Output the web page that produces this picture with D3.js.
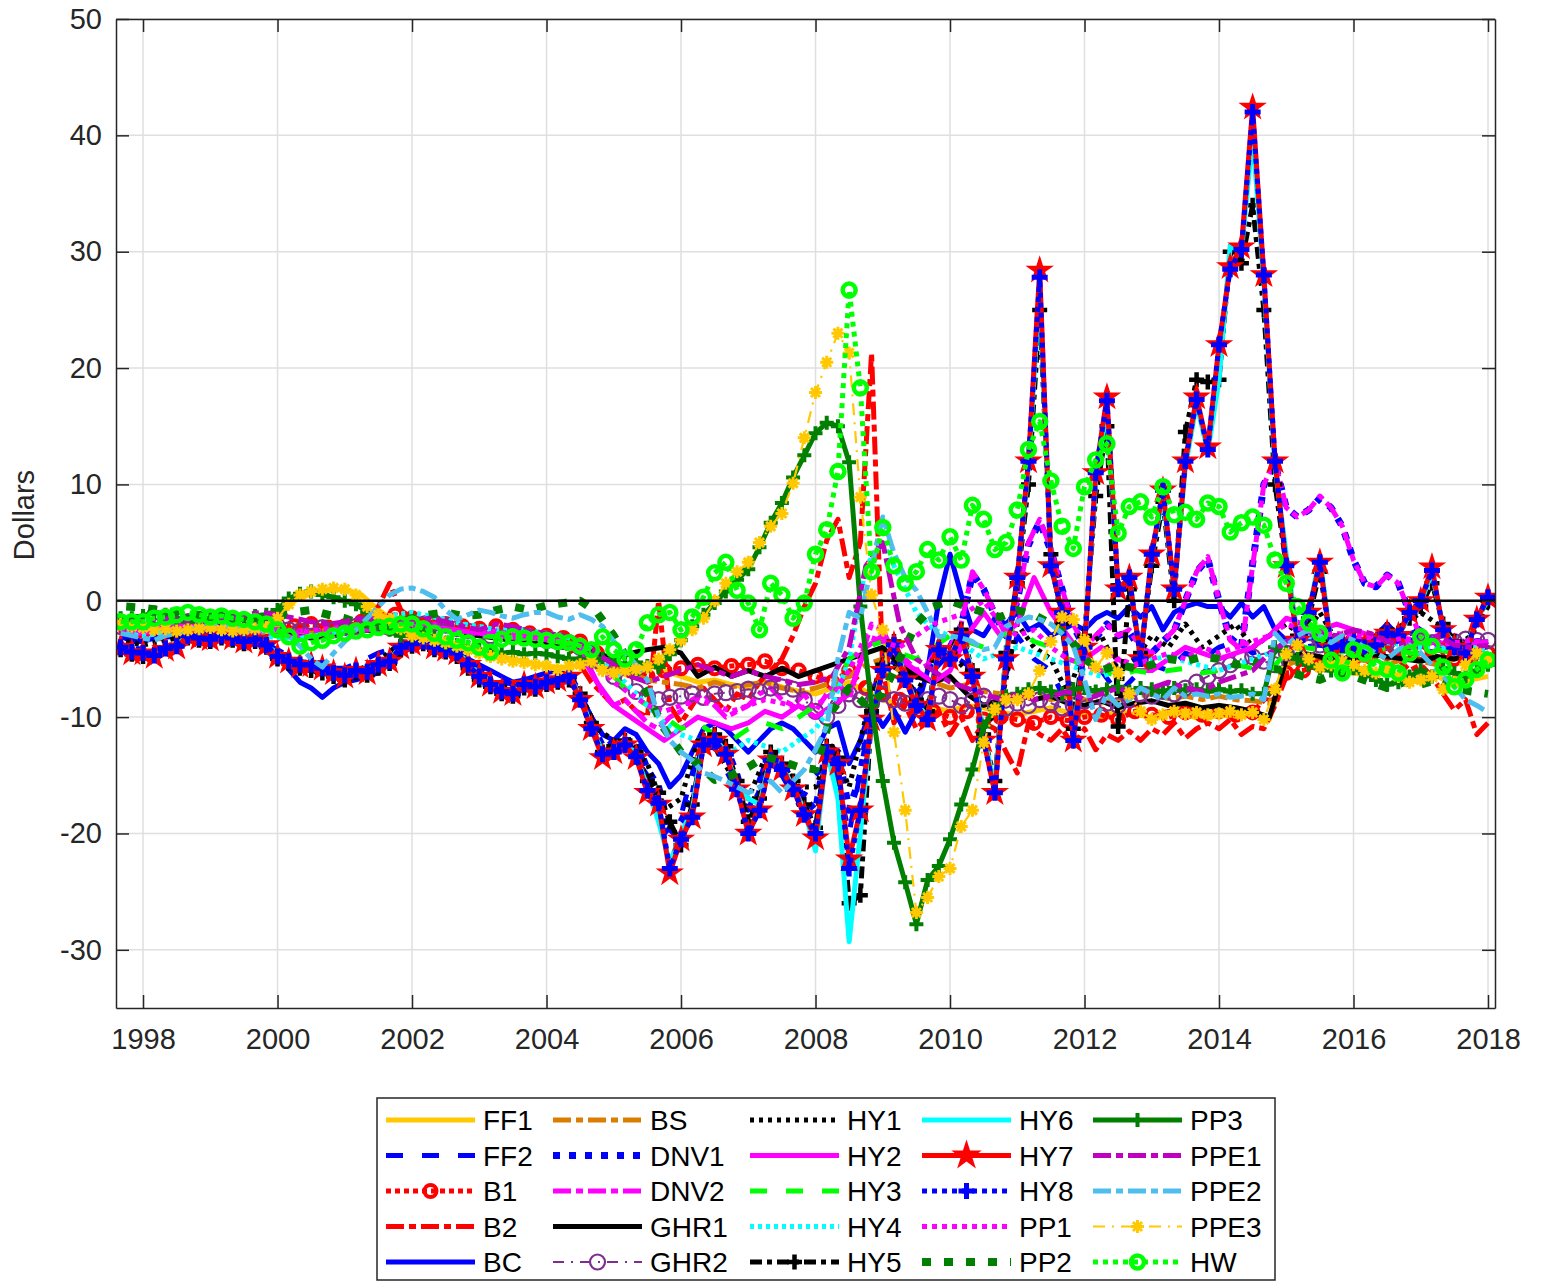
<!DOCTYPE html>
<html>
<head>
<meta charset="utf-8">
<script src="https://cdn.jsdelivr.net/npm/d3@7"></script>
<style>
  body { margin: 0; background: #fff; }
  text { font-family: "Liberation Sans", Arial, Helvetica, sans-serif; }
</style>
</head>
<body>
<svg id="chart" width="1543" height="1282"></svg>
<script>
// time grids: bimonthly series start Sep 1997, quarterly series start Oct 1997
const bimonthStart = 1997 + 8 / 12;
const quarterStart = 1997.75;

const yearTicks = [1998, 2000, 2002, 2004, 2006, 2008, 2010, 2012, 2014, 2016, 2018];
const dollarTicks = [-30, -20, -10, 0, 10, 20, 30, 40, 50];

// one row per year (first row: 1997, last row: Jan 2018)
const ff1 = [
  -2.2,
  -2.4, -2.6, -2.5, -2.4,
  -2.3, -2.5, -2.6, -2.4,
  -1.5, 0.0, 0.6, 0.9,
  1.0, 0.5, -0.8, -1.8,
  -2.8, -3.2, -3.5, -3.9,
  -4.3, -4.7, -5.0, -5.3,
  -5.6, -5.8, -5.5, -5.7,
  -6.0, -5.8, -5.5, -6.0,
  -6.5, -7.0, -6.8, -7.2,
  -7.5, -7.0, -7.4, -7.8,
  -8.0, -7.5, -7.0, -7.8,
  -8.5, -9.0, -8.5, -9.2,
  -9.5, -9.0, -9.2, -9.6,
  -9.8, -9.5, -9.2, -9.6,
  -9.8, -10.0, -9.5, -9.8,
  -10.0, -9.6, -9.8, -10.2,
  -9.8, -10.0, -9.6, -10.2,
  -5.5, -5.0, -5.8, -6.0,
  -6.2, -6.5, -6.0, -6.8,
  -7.0, -6.5, -7.2, -6.8,
  -6.5
];

const ff2 = [
  -3.2,
  -3.5, -3.2, -3.0, -3.3,
  -3.0, -3.2, -3.5, -3.6,
  -4.2, -5.0, -5.5, -5.8,
  -5.8, -5.2, -4.5, -4.0,
  -3.6, -3.8, -4.2, -4.8,
  -5.8, -6.8, -7.2, -7.0,
  -6.8, -6.5, -8.0, -11.0,
  -12.5, -13.0, -15.0, -20.0,
  -18.5, -13.0, -12.5, -15.5,
  -18.0, -14.0, -15.0, -17.5,
  -15.0, -13.5, -20.0, -12.0,
  -5.0, -5.5, -8.0, -6.0,
  -4.5, -5.5, -10.0, -8.0,
  -3.0, -5.0, -6.0, -9.0,
  -7.0, -6.0, -8.0, -6.5,
  -5.5, -6.0, -4.5, -5.0,
  -4.0, -3.5, -4.5, -4.0,
  -4.5, -4.0, -3.8, -4.2,
  -4.0, -4.5, -3.5, -3.0,
  -2.5, -3.5, -4.5, -4.0,
  -3.5
];

const b1 = [
  -2.5,
  -2.6, -2.8, -2.5, -2.3,
  -2.2, -2.4, -2.6, -2.8,
  -2.5, -2.2, -2.0, -2.3,
  -2.2, -1.8, -1.5, -1.2,
  -1.5, -1.8, -2.0, -2.2,
  -2.4, -2.2, -2.5, -2.8,
  -3.0, -3.2, -3.5, -4.5,
  -5.5, -6.0, -6.5, -6.0,
  -5.8, -5.5, -5.8, -5.6,
  -5.5, -5.2, -5.8, -6.0,
  -6.5, -7.0, -6.0, -7.5,
  -8.0, -8.5, -9.0, -9.5,
  -10.0, -9.5, -10.2, -10.0,
  -10.2, -10.5, -10.0, -10.3,
  -10.0, -9.8, -10.2, -9.5,
  -9.8, -10.0, -9.6, -9.8,
  -9.5, -9.8, -9.6, -8.0,
  -6.2, -6.0, -5.5, -5.2,
  -5.0, -4.8, -4.5, -4.6,
  -4.5, -4.8, -5.0, -4.8,
  -4.5
];

const b2 = [
  -2.8, -3.0,
  -3.0, -2.6, -2.4, -2.5, -2.7, -2.6,
  -2.4, -2.5, -2.8, -2.7, -2.5, -2.6,
  -2.8, -2.4, -2.2, -2.0, -2.2, -2.0,
  -2.3, -2.0, -1.5, -0.5, 1.5, -0.8,
  -1.5, -1.8, -2.0, -2.3, -2.2, -2.5,
  -2.6, -2.5, -2.8, -3.0, -2.9, -3.2,
  -3.4, -3.5, -4.0, -5.5, -7.0, -8.0,
  -9.0, -8.5, -9.5, -10.0, 0.0, -9.0,
  -10.5, -9.0, -7.5, -8.5, -9.5, -8.0,
  -8.5, -7.0, -6.0, -5.0, -3.0, -0.5,
  1.5, 5.2, 7.0, 2.0, 5.0, 21.3,
  -6.0, -10.5, -9.0, -11.0, -10.0, -9.5,
  -11.5, -10.0, -12.0, -10.5, -11.0, -13.0,
  -14.8, -10.5, -11.5, -12.0, -11.0, -12.5,
  -11.0, -12.8, -11.5, -12.0, -11.2, -12.0,
  -11.0, -11.5, -10.5, -11.8, -11.0, -10.5,
  -11.0, -10.2, -11.5, -10.8, -11.0, -9.0,
  -6.5, -6.0, -5.5, -5.0, -4.8, -5.2,
  -4.5, -4.2, -3.5, -4.0, -5.0, -6.0,
  -5.5, -6.5, -8.0, -9.4, -8.5, -11.5,
  -10.5
];

const bc = [
  -3.0, -3.5,
  -3.5, -3.2, -3.0, -3.2, -3.0, -2.8,
  -2.8, -3.0, -3.2, -3.0, -3.3, -3.5,
  -4.5, -5.9, -7.0, -7.5, -8.3, -7.5,
  -7.0, -6.8, -6.5, -6.2, -5.3, -4.5,
  -4.0, -3.8, -4.0, -4.2, -4.5, -5.0,
  -5.5, -6.0, -6.5, -7.0, -6.8, -6.5,
  -6.2, -6.0, -6.5, -8.0, -10.0, -11.5,
  -12.0, -11.0, -11.5, -13.0, -14.0, -16.0,
  -15.0, -13.0, -11.0, -10.5, -11.0, -12.0,
  -13.0, -12.0, -11.0, -10.5, -11.0, -12.0,
  -13.0, -11.0, -10.5, -14.0, -12.0, -9.0,
  -10.8, -9.4, -11.3, -9.5, -6.0, 0.0,
  4.0, 0.5, -2.5, -3.0, -1.5, -2.0,
  -1.0, -2.5, -2.0, -3.0, -2.5, -2.0,
  -2.5, -1.5, -1.0, -1.5, -0.5, -1.4,
  -0.5, -2.5, -1.0, -0.5, -0.2, -0.5,
  -0.5, -1.4, -0.2, -1.4, -0.5, -2.5,
  -3.4, -3.5, -3.0, -3.8, -4.0, -4.2,
  -4.2, -3.8, -3.0, -2.0, -3.0, -3.5,
  -3.0, -3.5, -4.0, -4.5, -4.0, -3.8,
  -4.0
];

const bs = [
  -2.3,
  -2.2, -2.0, -2.3, -2.5,
  -2.4, -2.2, -2.5, -2.6,
  -2.4, -2.6, -2.8, -2.5,
  -2.3, -2.0, -2.2, -2.4,
  -2.2, -2.5, -2.4, -2.6,
  -2.8, -3.0, -3.2, -3.4,
  -3.6, -3.8, -4.2, -5.0,
  -5.8, -6.2, -6.8, -7.0,
  -7.2, -7.5, -7.0, -7.4,
  -7.2, -7.0, -7.5, -7.8,
  -7.5, -7.0, -6.5, -5.5,
  -5.0, -6.0, -6.5, -7.0,
  -7.5, -7.2, -7.8, -8.0,
  -8.2, -8.0, -8.5, -8.2,
  -8.5, -8.8, -8.5, -8.2,
  -8.0, -8.4, -8.2, -8.5,
  -8.2, -8.5, -8.6, -8.8,
  -5.5, -5.0, -4.8, -5.2,
  -5.0, -5.2, -5.5, -5.0,
  -5.2, -5.5, -5.0, -5.3,
  -5.0
];

const dnv1 = [
  -3.8, -4.2,
  -4.2, -4.5, -4.0, -3.8, -3.2, -3.3,
  -3.4, -3.1, -3.3, -3.6, -3.4, -3.9,
  -4.6, -5.0, -5.4, -5.3, -5.6, -6.0,
  -6.2, -5.8, -6.0, -5.4, -5.0, -4.0,
  -3.8, -3.6, -4.0, -4.3, -4.6, -5.4,
  -6.3, -7.0, -7.5, -7.7, -7.0, -7.2,
  -6.8, -6.6, -6.4, -8.0, -10.5, -12.5,
  -12.5, -12.0, -12.0, -14.5, -16.0, -20.0,
  -19.0, -17.0, -12.0, -11.5, -12.5, -15.0,
  -18.5, -16.5, -13.0, -14.0, -15.5, -17.0,
  -18.0, -12.5, -13.0, -18.0, -15.0, -9.0,
  -5.0, -4.0, -5.5, -6.5, -6.0, -4.5,
  -4.0, -2.2, 2.3, 1.0, -1.2, -3.0,
  0.0, 4.8, 6.8, 4.3, 1.0, -2.2,
  -4.0, -3.2, -2.0, -3.0, -2.7, -4.2,
  -4.5, -3.5, -2.6, 0.0, 2.5, 3.6,
  0.0, -3.2, -4.0, 3.2, 10.0, 11.8,
  8.0, 7.2, 7.8, 8.8, 8.0, 6.4,
  3.5, 1.5, 1.2, 2.2, 1.5, -1.0,
  -3.0, -3.4, -3.8, -4.0, -3.8, -3.5,
  -3.6
];

const dnv2 = [
  -2.5, -2.8,
  -2.8, -2.6, -2.5, -2.2, -1.8, -2.0,
  -2.2, -2.3, -2.5, -2.4, -2.6, -2.8,
  -3.0, -2.8, -2.6, -2.5, -2.7, -3.0,
  -2.8, -2.6, -2.5, -2.3, -2.5, -2.6,
  -2.4, -2.2, -2.0, -2.3, -2.6, -2.8,
  -3.0, -2.8, -3.0, -3.2, -3.0, -3.3,
  -3.5, -3.6, -3.8, -4.5, -6.0, -8.0,
  -9.0, -8.5, -9.5, -10.5, -11.0, -10.0,
  -9.5, -8.5, -8.0, -9.0, -10.0, -9.5,
  -9.0, -8.0, -7.5, -8.5, -9.0, -8.0,
  -9.5, -8.0, -7.0, -8.5, -5.0, -2.0,
  -2.5, -4.5, -5.0, -6.0, -5.5, -4.0,
  -4.0, -2.0, 2.5, 1.0, -1.0, -3.0,
  0.0, 5.0, 7.0, 4.5, 1.0, -2.0,
  -4.0, -3.0, -2.0, -3.0, -2.5, -4.0,
  -4.5, -3.5, -2.5, 0.0, 2.5, 3.8,
  0.0, -3.4, -4.2, 3.0, 10.0, 12.0,
  8.0, 7.2, 7.8, 9.0, 8.0, 6.4,
  3.5, 1.5, 1.2, 2.2, 1.5, -1.0,
  -3.0, -3.4, -3.8, -4.0, -3.8, -3.5,
  -3.6
];

const ghr1 = [
  -2.0,
  -2.2, -2.0, -1.8, -2.0,
  -2.2, -2.0, -2.3, -2.5,
  -2.8, -3.0, -3.2, -3.0,
  -2.8, -2.5, -2.6, -2.8,
  -2.5, -2.3, -2.5, -2.8,
  -3.0, -3.2, -3.4, -3.6,
  -3.8, -4.0, -4.2, -4.5,
  -5.0, -4.5, -4.2, -4.0,
  -4.5, -6.5, -5.7, -6.5,
  -6.0, -6.5, -5.8, -6.5,
  -6.0, -5.5, -5.0, -4.5,
  -4.0, -5.5, -6.5, -7.0,
  -6.5, -8.0, -9.0, -8.5,
  -8.0, -8.5, -8.2, -8.8,
  -9.0, -8.6, -9.2, -8.8,
  -8.6, -9.0, -8.8, -9.2,
  -9.0, -9.2, -9.5, -10.0,
  -5.0, -4.5, -4.8, -5.2,
  -5.0, -4.6, -4.8, -5.0,
  -5.2, -4.8, -5.0, -4.6,
  -4.8
];

const ghr2 = [
  -2.2, -2.0,
  -1.8, -1.6, -1.5, -1.7, -1.8, -1.6,
  -1.5, -1.7, -1.8, -2.0, -1.9, -2.0,
  -2.2, -2.5, -2.6, -2.4, -2.3, -2.5,
  -2.3, -2.2, -2.0, -2.1, -2.3, -2.4,
  -2.2, -2.0, -1.9, -2.1, -2.4, -2.6,
  -2.8, -3.0, -3.2, -2.9, -3.0, -3.2,
  -3.4, -3.5, -3.6, -4.0, -4.5, -5.5,
  -6.5, -7.0, -7.8, -8.2, -8.5, -8.3,
  -8.2, -8.0, -8.3, -8.0, -7.9, -7.8,
  -7.6, -7.8, -7.5, -7.4, -7.6, -8.5,
  -9.5, -10.0, -9.0, -8.0, -8.5, -8.8,
  -8.0, -8.5, -8.8, -9.0, -8.5, -8.2,
  -8.5, -9.0, -8.6, -8.2, -8.8, -9.2,
  -8.8, -9.0, -8.5, -8.8, -9.2, -9.0,
  -8.6, -8.2, -8.8, -9.0, -8.5, -8.0,
  -8.2, -7.8, -8.0, -7.5, -7.0, -6.5,
  -6.0, -5.5, -5.0, -4.8, -5.2, -5.5,
  -4.5, -4.2, -4.0, -3.8, -4.0, -4.2,
  -4.0, -3.8, -3.5, -3.6, -3.8, -3.5,
  -3.4, -3.6, -3.8, -3.5, -3.3, -3.4,
  -3.4
];

const hy1 = [
  -3.5,
  -3.8, -3.5, -3.2, -3.0,
  -3.0, -3.2, -3.4, -3.6,
  -4.5, -5.2, -5.8, -6.0,
  -6.2, -5.8, -5.2, -4.0,
  -3.6, -3.8, -4.2, -5.0,
  -6.2, -7.2, -7.6, -7.2,
  -6.8, -6.5, -8.0, -11.0,
  -12.0, -12.5, -14.0, -18.0,
  -17.0, -12.0, -12.5, -15.0,
  -17.0, -13.5, -14.0, -16.0,
  -16.0, -12.5, -16.0, -10.0,
  -5.0, -6.0, -8.0, -5.0,
  -4.5, -6.0, -11.0, -9.0,
  -2.0, -4.0, -5.0, -8.0,
  -4.0, -3.0, -6.0, -5.0,
  -3.0, -4.0, -2.0, -4.0,
  -3.0, -2.0, -4.0, -3.0,
  -2.0, -3.0, -1.0, -3.5,
  -3.5, -3.5, -2.8, -2.0,
  -1.0, -2.0, -4.0, -3.0,
  -0.5
];

const hy2 = [
  -2.6,
  -2.8, -2.4, -2.2, -2.0,
  -2.2, -2.4, -2.6, -2.5,
  -2.8, -3.2, -3.0, -2.8,
  -2.6, -2.4, -2.5, -2.2,
  -2.0, -2.2, -2.4, -2.6,
  -2.8, -3.0, -3.2, -3.0,
  -3.2, -3.5, -4.5, -7.0,
  -9.0, -10.0, -11.0, -12.0,
  -11.0, -10.0, -10.5, -11.0,
  -10.5, -9.5, -10.0, -9.0,
  -10.0, -9.0, -8.0, -4.0,
  -3.0, -5.0, -6.0, -7.0,
  -6.0, -3.0, -1.0, -3.0,
  -2.0, 2.0, -1.0, -3.0,
  -5.0, -4.0, -5.0, -6.0,
  -6.0, -5.0, -4.0, -4.5,
  -5.0, -4.5, -4.0, -3.0,
  -1.5, -2.0, -2.5, -2.0,
  -2.5, -3.0, -3.2, -3.5,
  -3.8, -3.5, -4.0, -3.8,
  -3.5
];

const hy3 = [
  -2.0,
  -2.2, -2.0, -1.8, -2.0,
  -2.2, -2.4, -2.2, -2.5,
  -2.6, -2.8, -3.0, -2.8,
  -2.6, -2.5, -2.4, -2.3,
  -2.2, -2.4, -2.6, -2.8,
  -3.0, -3.1, -3.3, -3.2,
  -3.4, -3.6, -4.0, -5.0,
  -6.5, -8.0, -9.0, -10.0,
  -11.0, -10.5, -11.5, -12.0,
  -11.0, -10.5, -11.0, -10.0,
  -9.0, -8.0, -5.0, -4.0,
  -3.5, -4.5, -5.0, -4.0,
  -3.0, -3.5, -4.0, -3.0,
  -2.5, -3.5, -4.0, -5.0,
  -5.5, -6.0, -6.5, -6.0,
  -6.2, -6.0, -5.8, -6.2,
  -6.0, -5.5, -5.8, -6.0,
  -4.5, -4.0, -4.2, -4.5,
  -4.2, -4.5, -4.0, -4.4,
  -4.6, -4.2, -4.5, -4.8,
  -4.5
];

const hy4 = [
  -2.8,
  -3.0, -2.8, -2.6, -2.5,
  -2.4, -2.6, -2.8, -3.0,
  -3.2, -3.4, -3.0, -2.8,
  -2.5, -2.2, -1.8, -1.2,
  -1.0, -1.3, -1.6, -2.0,
  -2.2, -2.5, -2.4, -2.6,
  -2.8, -3.0, -3.5, -4.5,
  -6.0, -7.5, -9.0, -10.5,
  -11.5, -12.0, -12.5, -13.0,
  -12.0, -12.5, -13.0, -12.0,
  -11.0, -9.0, -5.0, 3.0,
  5.0, 2.0, -1.0, -2.5,
  -3.0, -4.0, -5.0, -4.5,
  -4.0, -4.5, -5.0, -5.5,
  -6.0, -6.5, -6.0, -5.5,
  -5.0, -4.8, -5.2, -5.6,
  -6.0, -5.5, -5.0, -4.5,
  -3.5, -3.0, -3.2, -3.5,
  -3.8, -4.0, -3.6, -3.8,
  -4.0, -4.2, -3.8, -4.0,
  -4.2
];

const hy5 = [
  -4.2, -4.6,
  -4.8, -4.6, -4.0, -3.8, -3.2, -3.4,
  -3.5, -3.2, -3.4, -3.7, -3.5, -4.0,
  -5.0, -5.4, -5.8, -6.0, -6.2, -6.5,
  -6.8, -6.2, -6.4, -5.8, -5.4, -4.2,
  -3.9, -3.7, -4.2, -4.4, -4.8, -5.8,
  -6.8, -7.4, -8.0, -8.2, -7.5, -7.6,
  -7.2, -7.0, -6.8, -8.0, -10.5, -13.0,
  -12.5, -12.0, -13.0, -15.5, -16.5, -19.0,
  -21.0, -17.5, -12.0, -11.5, -12.5, -15.5,
  -19.0, -17.0, -13.0, -14.0, -15.5, -17.5,
  -19.5, -12.5, -13.5, -26.0, -25.3, -9.5,
  -5.5, -3.5, -6.5, -8.5, -9.5, -4.0,
  -4.5, -2.5, -6.0, -11.5, -15.5, -4.5,
  1.5, 10.0, 25.0, 4.0, -2.0, -11.0,
  -3.0, 9.0, 15.0, -10.8, 1.0, -4.5,
  3.0, 8.5, 0.0, 14.5, 19.0, 18.8,
  19.0, 30.0, 29.0, 34.0, 25.0, 10.0,
  3.0, -3.0, -1.5, 2.5, -3.5, -3.5,
  -3.2, -3.8, -3.5, -2.5, -2.8, -1.5,
  -0.5, 1.5, -2.0, -3.5, -4.0, -1.5,
  0.0
];

const hy6 = [
  -3.8, -4.3,
  -4.4, -4.6, -4.0, -3.8, -3.0, -3.1,
  -3.2, -3.0, -3.1, -3.4, -3.2, -3.7,
  -4.6, -5.0, -5.4, -5.4, -5.6, -6.0,
  -6.3, -5.9, -6.0, -5.4, -5.1, -3.9,
  -3.6, -3.4, -3.9, -4.1, -4.4, -5.3,
  -6.3, -7.0, -7.6, -7.8, -7.0, -7.2,
  -6.8, -6.6, -6.4, -8.2, -10.8, -13.0,
  -12.8, -12.0, -13.3, -16.0, -19.0, -22.5,
  -20.0, -18.0, -12.0, -11.8, -13.0, -16.0,
  -17.0, -17.5, -13.5, -14.2, -16.0, -18.0,
  -21.5, -12.8, -17.0, -29.3, -20.0, -9.8,
  -5.8, -3.6, -6.5, -8.8, -10.0, -4.0,
  -4.8, -2.8, -6.2, -11.5, -16.0, -4.5,
  2.0, 11.5, 27.0, 3.0, -1.0, -11.5,
  -4.0, 10.5, 16.5, 1.0, 2.0, -5.0,
  4.0, 9.0, 1.0, 11.5, 17.0, 12.8,
  19.0, 30.5, 30.0, 40.0, 27.5, 11.5,
  4.0, -3.2, -1.0, 3.8, -3.8, -3.6,
  -3.4, -3.8, -3.6, -2.8, -3.0, -1.2,
  -0.2, 2.5, -2.4, -3.8, -4.3, -1.5,
  0.0
];

const hy7 = [
  -4.0, -4.5,
  -4.5, -4.8, -4.2, -4.0, -3.0, -3.2,
  -3.3, -3.0, -3.2, -3.5, -3.3, -3.8,
  -4.8, -5.2, -5.6, -5.5, -5.8, -6.2,
  -6.5, -6.0, -6.2, -5.5, -5.2, -4.0,
  -3.7, -3.5, -4.0, -4.2, -4.5, -5.5,
  -6.5, -7.2, -7.8, -8.0, -7.2, -7.4,
  -7.0, -6.8, -6.5, -8.5, -11.0, -13.5,
  -13.0, -12.4, -13.5, -16.5, -17.5, -23.4,
  -20.5, -18.6, -12.4, -12.0, -13.2, -16.2,
  -20.0, -18.0, -13.7, -14.5, -16.2, -18.4,
  -20.4, -13.0, -14.0, -22.2, -18.0, -10.2,
  -6.0, -3.8, -6.8, -9.0, -10.2, -4.2,
  -5.0, -3.0, -6.5, -12.0, -16.5, -5.0,
  2.0, 12.0, 28.4, 3.0, -1.0, -12.0,
  -4.0, 11.0, 17.5, 1.0, 2.0, -5.0,
  4.0, 9.5, 1.0, 12.0, 17.5, 13.2,
  22.0, 28.7, 30.4, 42.4, 28.0, 12.0,
  3.0, -3.4, -1.0, 3.3, -4.0, -3.8,
  -3.5, -4.0, -3.8, -2.8, -3.0, -1.0,
  0.0, 2.9, -2.5, -4.0, -4.5, -1.6,
  0.3
];

const hy8 = [
  -4.0, -4.4,
  -4.5, -4.7, -4.1, -3.9, -3.0, -3.2,
  -3.3, -3.0, -3.2, -3.5, -3.3, -3.8,
  -4.8, -5.2, -5.5, -5.5, -5.8, -6.2,
  -6.4, -6.0, -6.1, -5.5, -5.2, -4.0,
  -3.7, -3.5, -4.0, -4.2, -4.5, -5.5,
  -6.5, -7.2, -7.8, -8.0, -7.2, -7.4,
  -7.0, -6.8, -6.5, -8.5, -11.0, -13.2,
  -13.0, -12.4, -13.4, -16.3, -17.4, -23.0,
  -20.5, -18.6, -12.4, -12.0, -13.2, -16.2,
  -20.0, -18.0, -13.7, -14.5, -16.2, -18.4,
  -20.0, -13.0, -14.0, -23.0, -18.0, -10.2,
  -6.0, -3.8, -6.8, -9.0, -10.2, -4.2,
  -5.0, -3.0, -6.5, -12.0, -16.5, -5.0,
  2.0, 12.0, 27.8, 3.0, -1.0, -12.0,
  -4.0, 11.0, 17.2, 1.0, 2.0, -5.0,
  4.0, 9.5, 1.0, 12.0, 17.3, 13.0,
  22.0, 28.5, 30.2, 42.0, 28.0, 12.0,
  3.0, -3.4, -1.0, 3.3, -4.0, -3.8,
  -3.5, -4.0, -3.8, -2.8, -3.0, -1.0,
  0.0, 2.6, -2.5, -4.0, -4.5, -1.6,
  0.3
];

const pp1 = [
  -2.4,
  -2.6, -2.3, -2.0, -2.2,
  -2.4, -2.2, -2.0, -2.3,
  -2.5, -2.8, -2.6, -2.4,
  -2.2, -2.0, -2.3, -2.5,
  -2.3, -2.1, -2.4, -2.6,
  -2.8, -2.6, -2.9, -3.1,
  -3.3, -3.5, -4.0, -5.5,
  -7.0, -8.0, -9.0, -9.5,
  -9.0, -8.5, -9.0, -9.5,
  -9.0, -8.5, -8.8, -9.2,
  -9.0, -8.0, -6.0, -3.0,
  -3.5, -4.0, -3.0, -2.0,
  -1.5, -1.0, 0.0, -2.0,
  -3.0, -2.5, -4.0, -5.0,
  -5.5, -6.0, -5.0, -5.5,
  -5.0, -4.5, -5.0, -4.0,
  -4.5, -4.0, -3.5, -3.0,
  -2.0, -2.5, -3.0, -2.8,
  -3.0, -3.2, -3.5, -3.2,
  -3.5, -3.8, -3.6, -3.4,
  -3.6
];

const pp2 = [
  -0.5,
  -0.6, -0.8, -1.0, -1.2,
  -1.3, -1.2, -1.5, -1.6,
  -1.4, -1.0, -0.8, -1.2,
  -1.5, -2.0, -2.2, -1.8,
  -1.5, -1.2, -1.0, -1.3,
  -1.2, -0.8, -0.5, -0.8,
  -0.4, -0.2, 0.0, -1.0,
  -3.0, -5.5, -8.0, -11.0,
  -13.0, -14.0, -15.4, -15.0,
  -14.3, -13.4, -13.8, -14.3,
  -14.5, -9.4, -7.5, -9.0,
  -8.0, -5.0, -2.0, -0.5,
  0.0, -0.5, -1.0, -1.4,
  -0.8, -1.2, -2.0, -3.0,
  -5.0, -6.0, -5.5, -5.8,
  -5.5, -5.0, -5.2, -4.8,
  -5.0, -5.5, -5.2, -5.8,
  -6.0, -6.5, -6.8, -6.2,
  -6.5, -7.0, -7.5, -7.0,
  -7.2, -6.8, -7.5, -7.8,
  -8.0
];

const pp3 = [
  -1.5, -1.5,
  -1.3, -1.0, -1.2, -1.5, -1.8, -1.6,
  -1.5, -1.4, -1.6, -1.5, -1.3, -1.2,
  -0.8, 0.2, 0.6, 0.8, 0.5, 0.3,
  0.0, -0.3, -1.0, -2.0, -2.5, -3.0,
  -3.0, -2.8, -3.2, -3.6, -3.8, -4.0,
  -4.2, -4.4, -4.5, -4.4, -4.6, -4.5,
  -4.6, -4.8, -5.0, -5.0, -5.2, -5.0,
  -5.2, -5.5, -5.3, -5.6, -5.7, -4.6,
  -3.4, -2.2, -1.2, -0.2, 0.8, 1.8,
  2.7, 4.6, 6.7, 8.4, 10.6, 12.5,
  14.4, 15.3, 15.0, 11.9, -0.5, -9.0,
  -15.5, -20.8, -24.2, -27.8, -24.0, -22.8,
  -20.5, -17.5, -14.5, -10.8, -9.3, -8.2,
  -8.0, -7.6, -7.5, -7.8, -8.0, -7.6,
  -7.5, -7.8, -7.6, -7.4, -7.8, -7.5,
  -7.6, -7.8, -7.5, -7.7, -7.6, -7.8,
  -7.6, -7.8, -7.7, -8.0, -8.0, -4.0,
  -4.5, -5.0, -5.5, -5.8, -6.0, -5.5,
  -5.8, -6.2, -6.8, -7.2, -7.0, -6.5,
  -6.0, -6.5, -5.8, -6.2, -6.5, -6.0,
  -5.5
];

const ppe1 = [
  -2.0,
  -1.8, -1.5, -1.6, -1.8,
  -2.0, -1.6, -1.2, -1.0,
  -1.2, -1.5, -1.8, -2.0,
  -1.8, -1.5, -1.6, -2.0,
  -1.8, -1.5, -1.8, -2.2,
  -2.5, -2.0, -2.2, -2.6,
  -2.8, -3.0, -3.5, -4.5,
  -5.5, -6.5, -7.0, -6.5,
  -6.0, -5.5, -6.0, -6.5,
  -6.0, -6.5, -6.8, -7.2,
  -7.0, -6.5, -4.0, 3.0,
  5.0, -2.0, -5.0, -6.0,
  -7.0, -7.5, -8.0, -8.5,
  -8.0, -8.5, -8.2, -7.8,
  -8.5, -8.0, -7.5, -8.0,
  -7.5, -7.0, -7.5, -7.8,
  -7.0, -6.5, -6.0, -4.5,
  -3.5, -3.0, -2.8, -3.0,
  -2.5, -2.8, -3.5, -3.8,
  -3.5, -3.0, -3.8, -4.0,
  -3.8
];

const ppe2 = [
  -2.8, -3.0,
  -3.2, -3.4, -3.0, -2.8, -2.5, -2.3,
  -2.2, -2.0, -2.3, -2.5, -2.4, -2.6,
  -2.8, -3.0, -3.9, -5.0, -5.7, -4.5,
  -3.5, -2.5, -1.5, -0.5, 0.5, 1.0,
  1.1, 0.8, 0.3, -0.8, -1.6, -1.2,
  -0.8, -1.0, -1.3, -1.5, -1.2, -1.0,
  -1.0, -1.4, -1.6, -1.2, -1.6, -2.2,
  -3.5, -4.5, -5.5, -6.8, -10.0, -12.0,
  -13.0, -13.7, -14.8, -15.1, -15.5, -16.0,
  -16.5, -16.0, -15.5, -16.5, -15.5, -14.5,
  -12.8, -10.8, -5.0, -1.0, -1.5, 3.0,
  7.2, 4.1, 2.0, 0.9, -1.0, -3.1,
  -3.0, -3.2, -3.5, -4.2, -4.0, -2.2,
  -1.8, -1.4, -1.6, -2.0, -2.8, -3.9,
  -6.8, -10.2, -8.0, -9.0, -8.5, -7.5,
  -8.0, -8.5, -7.5, -8.2, -8.0, -8.2,
  -8.0, -8.3, -8.2, -8.0, -8.5, -2.8,
  -3.9, -3.0, -2.5, -3.0, -3.6, -3.0,
  -3.4, -4.0, -4.5, -5.0, -4.2, -3.8,
  -4.5, -5.5, -6.5, -7.4, -8.5, -9.0,
  -9.6
];

const ppe3 = [
  -2.0, -2.2,
  -2.3, -2.5, -2.4, -2.6, -2.5, -2.4,
  -2.3, -2.5, -2.6, -2.5, -2.4, -2.3,
  -1.5, -0.3, 0.5, 0.8, 1.0, 1.1,
  1.0, 0.5, -0.5, -1.2, -1.6, -2.4,
  -3.0, -3.2, -3.4, -3.6, -3.9, -4.2,
  -4.5, -4.8, -5.0, -5.2, -5.3, -5.5,
  -5.6, -5.9, -5.6, -5.5, -5.2, -6.0,
  -6.2, -6.0, -5.9, -5.7, -5.0, -4.2,
  -3.4, -2.5, -1.5, 0.0, 1.5, 2.5,
  3.3, 5.0, 6.4, 7.5, 10.1, 14.0,
  17.9, 20.5, 23.0, 21.3, 8.9, 0.5,
  -2.5, -11.3, -18.0, -26.8, -25.5, -23.7,
  -23.0, -19.4, -18.0, -12.2, -9.3, -8.5,
  -8.5, -8.0, -6.0, -3.5, -1.4, -1.6,
  -3.4, -5.7, -4.5, -6.2, -8.0, -9.5,
  -10.2, -9.8, -9.5, -9.7, -9.6, -9.8,
  -9.7, -9.5, -9.8, -9.6, -10.2, -7.6,
  -4.6, -3.8, -5.0, -5.7, -5.5, -5.2,
  -5.5, -6.0, -6.2, -5.8, -6.5, -7.0,
  -6.8, -6.5, -7.6, -7.0, -5.5, -4.5,
  -5.0
];

const hw = [
  -1.8, -1.8,
  -1.8, -1.5, -1.4, -1.2, -1.0, -1.2,
  -1.4, -1.3, -1.5, -1.6, -1.8, -2.0,
  -2.5, -3.1, -3.9, -3.6, -3.4, -3.0,
  -2.8, -2.6, -2.5, -2.3, -2.2, -2.0,
  -2.0, -2.4, -2.8, -3.1, -3.4, -3.6,
  -4.0, -4.4, -3.3, -3.1, -3.2, -3.3,
  -3.4, -3.5, -3.6, -3.9, -4.2, -3.1,
  -4.2, -5.0, -4.2, -1.9, -1.2, -1.0,
  -2.5, -1.4, 0.3, 2.4, 3.3, 0.9,
  -0.2, -2.5, 1.5, 0.5, -1.5, -0.2,
  4.0, 6.1, 11.1, 26.7, 18.3, 2.5,
  6.3, 3.0, 1.5, 2.5, 4.4, 3.5,
  5.5, 3.5, 8.2, 7.0, 4.4, 5.0,
  7.8, 13.0, 15.4, 10.3, 6.4, 4.5,
  9.8, 12.1, 13.5, 5.8, 8.1, 8.5,
  7.2, 9.8, 7.4, 7.6, 7.0, 8.4,
  8.1, 5.9, 6.7, 7.2, 6.5, 3.5,
  1.5, -0.5, -1.9, -2.8, -5.1, -6.2,
  -4.2, -4.5, -5.7, -5.9, -6.2, -4.5,
  -3.1, -3.9, -5.7, -7.4, -6.8, -5.9,
  -5.1
];

// series in plot / legend order (step in months)
const series = [
  { name: "FF1", start: quarterStart, step: 3, values: ff1 },
  { name: "FF2", start: quarterStart, step: 3, values: ff2 },
  { name: "B1", start: quarterStart, step: 3, values: b1 },
  { name: "B2", start: bimonthStart, step: 2, values: b2 },
  { name: "BC", start: bimonthStart, step: 2, values: bc },
  { name: "BS", start: quarterStart, step: 3, values: bs },
  { name: "DNV1", start: bimonthStart, step: 2, values: dnv1 },
  { name: "DNV2", start: bimonthStart, step: 2, values: dnv2 },
  { name: "GHR1", start: quarterStart, step: 3, values: ghr1 },
  { name: "GHR2", start: bimonthStart, step: 2, values: ghr2 },
  { name: "HY1", start: quarterStart, step: 3, values: hy1 },
  { name: "HY2", start: quarterStart, step: 3, values: hy2 },
  { name: "HY3", start: quarterStart, step: 3, values: hy3 },
  { name: "HY4", start: quarterStart, step: 3, values: hy4 },
  { name: "HY5", start: bimonthStart, step: 2, values: hy5 },
  { name: "HY6", start: bimonthStart, step: 2, values: hy6 },
  { name: "HY7", start: bimonthStart, step: 2, values: hy7 },
  { name: "HY8", start: bimonthStart, step: 2, values: hy8 },
  { name: "PP1", start: quarterStart, step: 3, values: pp1 },
  { name: "PP2", start: quarterStart, step: 3, values: pp2 },
  { name: "PP3", start: bimonthStart, step: 2, values: pp3 },
  { name: "PPE1", start: quarterStart, step: 3, values: ppe1 },
  { name: "PPE2", start: bimonthStart, step: 2, values: ppe2 },
  { name: "PPE3", start: bimonthStart, step: 2, values: ppe3 },
  { name: "HW", start: bimonthStart, step: 2, values: hw },
];

const dashDot = "18,5,7,5";
const styles = {
  FF1: { color: "#FFC800", width: 5 },
  FF2: { color: "#0000FF", width: 5, dash: "17,19" },
  B1: { color: "#FF0000", width: 5, dash: "5,4", marker: "o", r: 6, mw: 4 },
  B2: { color: "#FF0000", width: 5, dash: dashDot },
  BC: { color: "#0000FF", width: 5 },
  BS: { color: "#DB7D00", width: 5, dash: dashDot },
  DNV1: { color: "#0000FF", width: 7, dash: "7,9" },
  DNV2: { color: "#FF00FF", width: 5, dash: dashDot },
  GHR1: { color: "#000000", width: 5 },
  GHR2: { color: "#7E2F8E", width: 2, dash: "11,7,2,7", marker: "o", r: 7.5, mw: 2.2 },
  HY1: { color: "#000000", width: 5, dash: "4,5" },
  HY2: { color: "#FF00FF", width: 5 },
  HY3: { color: "#00FF00", width: 5, dash: "17,19" },
  HY4: { color: "#00FFFF", width: 5, dash: "4,4" },
  HY5: { color: "#000000", width: 5, dash: "12,5,5,5", marker: "+", r: 7.5, mw: 4.5 },
  HY6: { color: "#00FFFF", width: 5 },
  HY7: { color: "#FF0000", width: 5, marker: "star", r: 15 },
  HY8: { color: "#0000FF", width: 5, dash: "5,5", marker: "+", r: 8, mw: 5 },
  PP1: { color: "#FF00FF", width: 5, dash: "5,5" },
  PP2: { color: "#007F00", width: 8, dash: "9,13" },
  PP3: { color: "#007F00", width: 5, marker: "+", r: 7, mw: 4 },
  PPE1: { color: "#BF00BF", width: 5, dash: dashDot },
  PPE2: { color: "#4DBEEE", width: 5, dash: dashDot },
  PPE3: { color: "#FFC800", width: 2.2, dash: "12,7,2,7", marker: "*", r: 6.5, mw: 3 },
  HW: { color: "#00FF00", width: 5, dash: "5,5", marker: "o", r: 6.5, mw: 4.5 },
};

const svg = d3.select("#chart");
const x = d3.scaleLinear().domain([1997.598, 2018.104]).range([116, 1495]);
const y = d3.scaleLinear().domain([-35, 50]).range([1008, 19]);
const axisColor = "#262626";

svg.append("defs").append("clipPath").attr("id", "plotClip")
  .append("rect").attr("x", 116).attr("y", 19).attr("width", 1379).attr("height", 989);

// grid
const grid = svg.append("g");
grid.selectAll("line.vgrid").data(yearTicks).join("line").attr("class", "vgrid")
  .attr("x1", d => x(d)).attr("x2", d => x(d)).attr("y1", 19).attr("y2", 1008);
grid.selectAll("line.hgrid").data(dollarTicks).join("line").attr("class", "hgrid")
  .attr("y1", d => y(d)).attr("y2", d => y(d)).attr("x1", 116).attr("x2", 1495);
grid.selectAll("line").attr("stroke", "#dfdfdf").attr("stroke-width", 1.5);

function markerPath(type, r) {
  if (type === "star") return d3.symbol(d3.symbolStar, (r * r) / 0.8908)();
  if (type === "+") return `M${-r},0H${r}M0,${-r}V${r}`;
  if (type === "*") {
    const k = r * 0.7;
    return `M${-r},0H${r}M0,${-r}V${r}M${-k},${-k}L${k},${k}M${-k},${k}L${k},${-k}`;
  }
  return `M${r},0A${r},${r} 0 1 1 ${-r},0A${r},${r} 0 1 1 ${r},0Z`;
}

function styleMarkers(sel, st) {
  if (st.marker === "star") {
    sel.attr("fill", st.color).attr("stroke", "none");
  } else {
    sel.attr("fill", "none").attr("stroke", st.color).attr("stroke-width", st.mw);
  }
}

const line = d3.line().x(d => x(d.t)).y(d => y(d.v));
const plot = svg.append("g").attr("clip-path", "url(#plotClip)");

series.forEach(s => {
  const st = styles[s.name];
  const pts = s.values.map((v, i) => ({ t: s.start + (i * s.step) / 12, v }));
  plot.append("path").datum(pts).attr("d", line)
    .attr("fill", "none")
    .attr("stroke", st.color)
    .attr("stroke-width", st.width)
    .attr("stroke-dasharray", st.dash || null)
    .attr("stroke-linejoin", "round");
  if (st.marker) {
    plot.append("g").selectAll("path").data(pts).join("path")
      .attr("transform", d => `translate(${x(d.t)},${y(d.v)})`)
      .attr("d", markerPath(st.marker, st.r))
      .call(styleMarkers, st);
  }
});

// zero line
svg.append("line")
  .attr("x1", 116).attr("x2", 1495).attr("y1", y(0)).attr("y2", y(0))
  .attr("stroke", "#000").attr("stroke-width", 2.5);

// axes (ticks pointing inward, mirrored on top/right)
const fontSize = 29;
const plain = d => String(d); // hyphen-minus like the original
const gBottom = svg.append("g").attr("transform", "translate(0,1008)")
  .call(d3.axisBottom(x).tickValues(yearTicks).tickFormat(plain)
    .tickSizeInner(-13).tickSizeOuter(0).tickPadding(20));
const gLeft = svg.append("g").attr("transform", "translate(116,0)")
  .call(d3.axisLeft(y).tickValues(dollarTicks).tickFormat(plain)
    .tickSizeInner(-13).tickSizeOuter(0).tickPadding(14));
const gTop = svg.append("g").attr("transform", "translate(0,19)")
  .call(d3.axisTop(x).tickValues(yearTicks).tickFormat("")
    .tickSizeInner(-13).tickSizeOuter(0));
const gRight = svg.append("g").attr("transform", "translate(1495,0)")
  .call(d3.axisRight(y).tickValues(dollarTicks).tickFormat("")
    .tickSizeInner(-13).tickSizeOuter(0));

[gBottom, gLeft, gTop, gRight].forEach(g => {
  g.select(".domain").attr("stroke", axisColor).attr("stroke-width", 1.5);
  g.selectAll(".tick line").attr("stroke", axisColor).attr("stroke-width", 1.5);
  g.selectAll(".tick text").attr("fill", axisColor)
    .style("font-size", fontSize + "px")
    .style("font-family", '"Liberation Sans", Arial, sans-serif');
});

svg.append("text")
  .attr("transform", "translate(34,515) rotate(-90)")
  .attr("text-anchor", "middle")
  .attr("fill", axisColor)
  .style("font-size", fontSize + "px")
  .text("Dollars");

// legend
const legend = svg.append("g");
legend.append("rect")
  .attr("x", 377).attr("y", 1098).attr("width", 898).attr("height", 182)
  .attr("fill", "#fff").attr("stroke", axisColor).attr("stroke-width", 1.5);

const colX = [386, 553, 750, 922, 1093];
series.forEach((s, k) => {
  const st = styles[s.name];
  const cx = colX[Math.floor(k / 5)];
  const cy = 1120 + (k % 5) * 35.5;
  const g = legend.append("g");
  g.append("line")
    .attr("x1", cx).attr("x2", cx + 89).attr("y1", cy).attr("y2", cy)
    .attr("stroke", st.color).attr("stroke-width", st.width)
    .attr("stroke-dasharray", st.dash || null);
  if (st.marker) {
    g.append("path")
      .attr("transform", `translate(${cx + 44.5},${cy})`)
      .attr("d", markerPath(st.marker, st.marker === "star" ? 16 : st.r))
      .call(styleMarkers, st);
  }
  g.append("text")
    .attr("x", cx + 97).attr("y", cy)
    .attr("dy", "0.36em")
    .attr("fill", "#000")
    .style("font-size", "28px")
    .text(s.name);
});
</script>
</body>
</html>
